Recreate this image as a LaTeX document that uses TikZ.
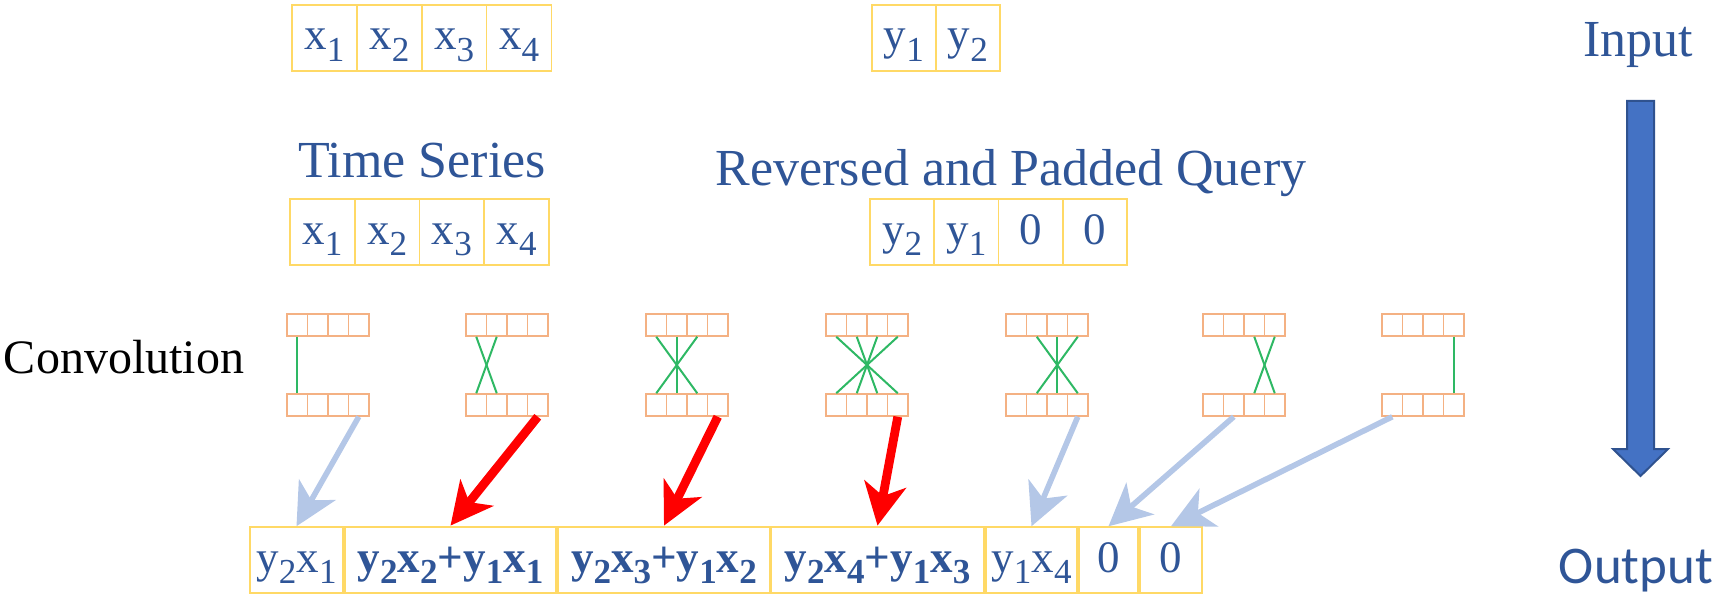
\documentclass[tikz,border=0pt]{standalone}
\usepackage{fontspec}
\setmainfont{Liberation Serif}
\newfontfamily\calibri{Carlito}
\usepackage{graphicx}
\usetikzlibrary{arrows.meta, positioning, calc}

\definecolor{txtblue}{RGB}{47,85,151}
\definecolor{cellgold}{RGB}{255,217,102}
\definecolor{convorange}{RGB}{244,177,131}
\definecolor{linkgreen}{RGB}{46,184,100}
\definecolor{paleblue}{RGB}{180,199,231}
\definecolor{arrowblue}{RGB}{68,114,196}
\definecolor{arrowedge}{RGB}{47,82,143}

% lowered index
\newcommand{\ix}[1]{\raisebox{-0.25em}{\scalebox{0.78}{#1}}}

\begin{document}
\begin{tikzpicture}[
    x=0.5pt, y=-0.5pt,
    cell/.style={rectangle, draw=cellgold, line width=0.75pt, minimum height=33pt, inner sep=0pt,
        text=txtblue, font=\fontsize{22.5}{26}\selectfont, text height=13pt, text depth=1pt},
    boldcell/.style={cell, line width=1.4pt, font=\fontsize{22.5}{26}\selectfont\bfseries},
    convcell/.style={rectangle, draw=convorange, line width=0.75pt, minimum width=10.25pt, minimum height=11pt, inner sep=0pt},
    heading/.style={anchor=base, text=txtblue, font=\fontsize{26}{30}\selectfont},
    link/.style={linkgreen, line width=1pt},
    passarrow/.style={paleblue, line width=2.8pt, -{Stealth[length=21pt, width=21pt, inset=6pt]}},
    hitarrow/.style={red, line width=4.4pt, -{Stealth[length=21pt, width=21pt, inset=6pt]}},
    bigarrow/.style={fill=arrowblue, draw=arrowedge, line width=1pt}
]
\useasboundingbox (0,0) rectangle (1716,599);

% X positions
\def\xts{292}
\def\xq{872}
\def\xtsb{290}
\def\xqb{870}

% ---------- Inputs ----------
\foreach \i in {1,...,4}
    \node[cell, minimum width=32.45pt] (S\i) at ({\xts+(\i-0.5)*64.9},38) {x\ix{\i}};

\foreach \i in {1,2}
    \node[cell, minimum width=32pt] (Q\i) at ({\xq+(\i-0.5)*64},38) {y\ix{\i}};

% ---------- Titles ----------
\node[heading] (tstitle) at (422,177) {Time Series};
\node[heading] (qtitle) at (1011,185) {Reversed and Padded Query};

% ---------- Series and padded query ----------
\foreach \i in {1,...,4}
    \node[cell, minimum width=32.4pt] (T\i) at ({\xtsb+(\i-0.5)*64.75},232) {x\ix{\i}};

\foreach \i/\t in {1/{y\ix{2}},2/{y\ix{1}},3/0,4/0}
    \node[cell, minimum width=32.1pt] (P\i) at ({\xqb+(\i-0.5)*64.25},232) {\t};

% ---------- Convolution ----------
\node[anchor=base, font=\fontsize{24}{28}\selectfont] (convlabel) at (124,373) {Convolution};

\foreach \k/\gx in {1/287,2/466,3/646,4/826,5/1006,6/1203,7/1382}
    \foreach \i in {1,...,4} {
        \node[convcell] (U\k-\i) at ({\gx+(\i-0.5)*20.5},325) {};
        \node[convcell] (L\k-\i) at ({\gx+(\i-0.5)*20.5},405) {};
    }

\foreach \k in {1,...,7}
    \foreach \i in {1,...,4} {
        \pgfmathtruncatemacro{\j}{\k+1-\i}
        \ifnum\j>0 \ifnum\j<5
            \draw[link] (U\k-\i.south) -- (L\k-\j.north);
        \fi\fi
    }

% ---------- Output ----------
\node[cell, minimum width=46.5pt] (O1) at (296.5,560) {y\ix{2}x\ix{1}};
\node[boldcell, minimum width=105.5pt] (O2) at (450.5,560) {y\ix{2}x\ix{2}+y\ix{1}x\ix{1}};
\node[boldcell, minimum width=106pt] (O3) at (664,560) {y\ix{2}x\ix{3}+y\ix{1}x\ix{2}};
\node[boldcell, minimum width=106.5pt] (O4) at (877.5,560) {y\ix{2}x\ix{4}+y\ix{1}x\ix{3}};
\node[cell, minimum width=45.5pt] (O5) at (1031.5,560) {y\ix{1}x\ix{4}};
\node[cell, minimum width=29.5pt] (O6) at (1108.5,560) {0};
\node[cell, minimum width=31pt] (O7) at (1171,560) {0};

% ---------- Arrows ----------
\draw[passarrow] (L1-4.south) -- (O1.north);
\draw[hitarrow] (L2-4.south) -- (O2.north);
\draw[hitarrow] (L3-4.south) -- (O3.north);
\draw[hitarrow] (L4-4.south) -- (O4.north);
\draw[passarrow] (L5-4.south) -- (O5.north);
\draw[passarrow] (L6-2.south) -- (O6.north);
\draw[passarrow] (L7-1.south) -- (O7.north);

% ---------- Direction ----------
\node[heading] (inlabel) at (1638.5,57) {Input};
\node[anchor=base, text=txtblue, font=\calibri\fontsize{26.5}{30}\selectfont] (outlabel) at (1636,583) {Output};

\filldraw[bigarrow] (1627,101) -- (1654,101) -- (1654,449) -- (1668,449) -- (1640.5,476)
    -- (1613,449) -- (1627,449) -- cycle;

\end{tikzpicture}
\end{document}
